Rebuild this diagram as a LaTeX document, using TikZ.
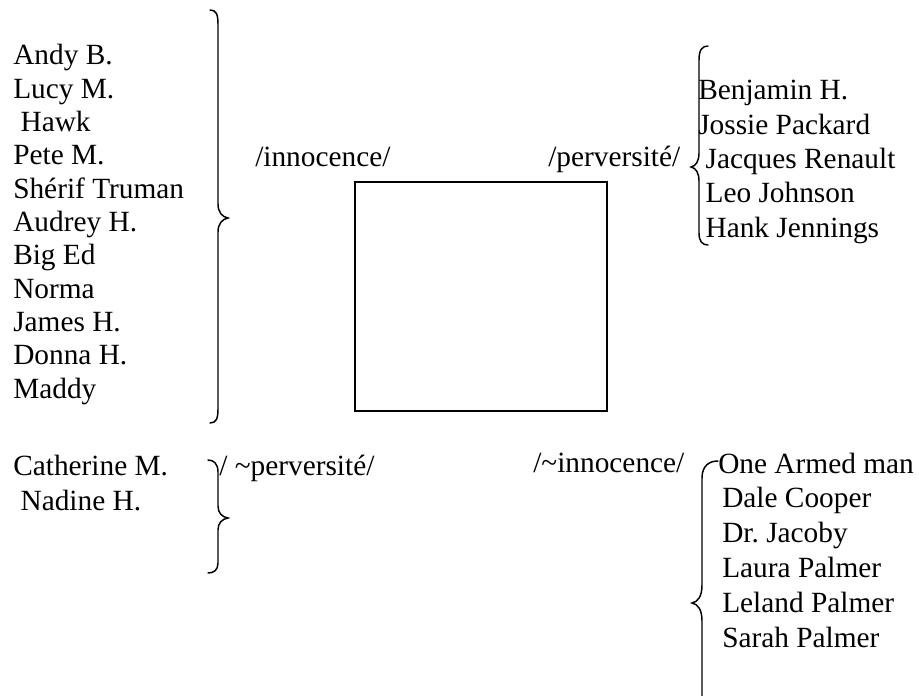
\documentclass[tikz,border=0pt]{standalone}
\usepackage{fontspec}
\setmainfont{Liberation Serif}
\frenchspacing

\tikzset{
  person/.style={anchor=base west, inner sep=0pt, font=\fontsize{22}{26}\selectfont},
  curly/.style={line width=1.1pt, line cap=round},
}

\begin{document}
\begin{tikzpicture}[x=0.75pt, y=-0.75pt]
\useasboundingbox (0,0) rectangle (919,695);
\clip (0,0) rectangle (919,695);

% Innocence group (top left)
\foreach \who [count=\i] in {Andy B., Lucy M., \ Hawk, Pete M., Shérif Truman, Audrey H., Big Ed, Norma, James H., Donna H., Maddy}
  \node[person] (inn\i) at (13, {65+33.3*(\i-1)}) {\who};
\draw[curly] (210,10) .. controls (216,10) and (218,14) .. (218,24) -- (218,204)
  .. controls (218,212) and (222,217) .. (228,218)
  .. controls (222,219) and (218,224) .. (218,232) -- (218,409)
  .. controls (218,419) and (216,423) .. (210,423);

% Perversity group (top right)
\foreach \who [count=\i] in {Benjamin H., Jossie Packard, \ Jacques Renault, \ Leo Johnson, \ Hank Jennings}
  \node[person] (perv\i) at (698, {100+34.25*(\i-1)}) {\who};
\draw[curly] (708,46) .. controls (702,46) and (699,50) .. (699,60) -- (699,153)
  .. controls (699,161) and (696,166) .. (691,167)
  .. controls (696,168) and (699,173) .. (699,181) -- (699,233)
  .. controls (699,241) and (702,245) .. (708,245);

% Non-perversity group (bottom left)
\foreach \who [count=\i] in {Catherine M., \ Nadine H.}
  \node[person] (nperv\i) at (13, {475+35*(\i-1)}) {\who};
\draw[curly] (208,460) .. controls (214,460) and (218,464) .. (218,472) -- (218,506)
  .. controls (218,513) and (222,517) .. (228,518)
  .. controls (222,519) and (218,523) .. (218,530) -- (218,563)
  .. controls (218,570) and (214,573) .. (208,573);

% Non-innocence group (bottom right)
\node[person] (ninn1) at (718,473) {One Armed man};
\foreach \who [count=\i from 2] in {Dale Cooper, Dr. Jacoby, Laura Palmer, Leland Palmer, Sarah Palmer}
  \node[person] (ninn\i) at (722, {473+34.8*(\i-1)}) {\who};
\draw[curly] (718,461) .. controls (709,461) and (702,466) .. (702,478) -- (702,585)
  .. controls (702,596) and (698,602) .. (692,603)
  .. controls (698,604) and (702,610) .. (702,621) -- (702,728)
  .. controls (702,740) and (709,745) .. (718,745);

% Semiotic square
\node[person] (innocence) at (255,167) {/innocence/};
\node[person] (perversite) at (548,167) {/perversité/};
\node[person] (notperversite) at (219,475) {/ \textasciitilde perversité/};
\node[person] (notinnocence) at (533,472) {/\textasciitilde innocence/};
\draw[line width=1.5pt] (355,182) rectangle (607,411);
\end{tikzpicture}
\end{document}
